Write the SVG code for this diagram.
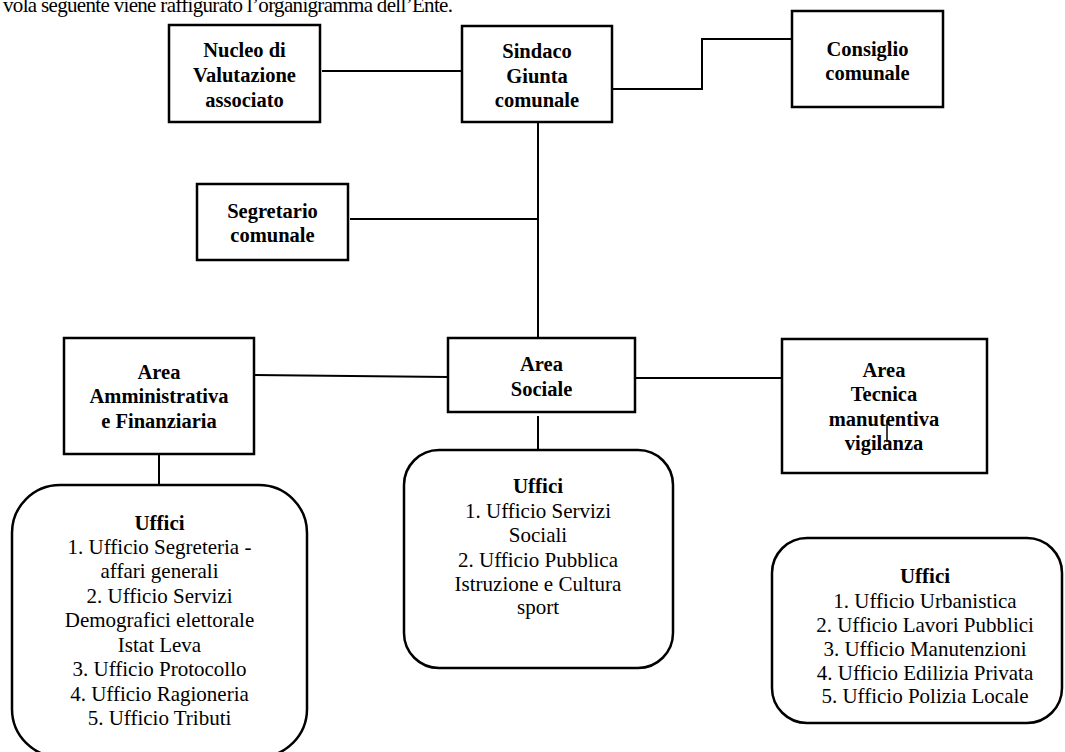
<svg xmlns="http://www.w3.org/2000/svg" width="1065" height="752" viewBox="0 0 1065 752">
<style>
.box{fill:#fff;stroke:#000;stroke-width:2.5}
.ln{fill:none;stroke:#000;stroke-width:2}
.t{font-family:"Liberation Serif","Times New Roman",serif;font-size:20.5px;font-weight:bold;text-anchor:middle;fill:#000}
.r{font-family:"Liberation Serif","Times New Roman",serif;font-size:21px;text-anchor:middle;fill:#000}
.rb{font-weight:bold}
</style>
<rect width="1065" height="752" fill="#fff"/>
<text x="3" y="12" font-family="Liberation Serif, serif" font-size="21" textLength="450" fill="#000">vola seguente viene raffigurato l’organigramma dell’Ente.</text>
<g id="connectors">
<line class="ln" x1="322" y1="71" x2="462" y2="71"/>
<polyline class="ln" points="612,89 702,89 702,39 792,39"/>
<line class="ln" x1="538" y1="122" x2="538" y2="338"/>
<line class="ln" x1="350" y1="219" x2="538" y2="219"/>
<line class="ln" x1="254" y1="375" x2="448" y2="377"/>
<line class="ln" x1="635" y1="378" x2="782" y2="378"/>
<line class="ln" x1="538" y1="416" x2="538" y2="450"/>
<line class="ln" x1="159" y1="454" x2="159" y2="485"/>
</g>
<g id="nucleo">
<rect class="box" x="169" y="25" width="151" height="97"/>
<text class="t" x="244.5" y="57">Nucleo di</text>
<text class="t" x="244.5" y="82">Valutazione</text>
<text class="t" x="244.5" y="107">associato</text>
</g>
<g id="sindaco">
<rect class="box" x="462" y="26" width="150" height="96"/>
<text class="t" x="537" y="58">Sindaco</text>
<text class="t" x="537" y="83">Giunta</text>
<text class="t" x="537" y="107">comunale</text>
</g>
<g id="consiglio">
<rect class="box" x="792" y="11" width="151" height="96"/>
<text class="t" x="867.5" y="56">Consiglio</text>
<text class="t" x="867.5" y="80">comunale</text>
</g>
<g id="segretario">
<rect class="box" x="197" y="184" width="151" height="76"/>
<text class="t" x="272.5" y="218">Segretario</text>
<text class="t" x="272.5" y="242">comunale</text>
</g>
<g id="area-amm">
<rect class="box" x="64" y="338" width="190" height="116"/>
<text class="t" x="159" y="379">Area</text>
<text class="t" x="159" y="403">Amministrativa</text>
<text class="t" x="159" y="428">e Finanziaria</text>
</g>
<g id="area-sociale">
<rect class="box" x="448" y="338" width="187" height="74"/>
<text class="t" x="541.5" y="371">Area</text>
<text class="t" x="541.5" y="396">Sociale</text>
</g>
<g id="area-tecnica">
<rect class="box" x="782" y="339" width="205" height="134"/>
<text class="t" x="884" y="377">Area</text>
<text class="t" x="884" y="401">Tecnica</text>
<text class="t" x="884" y="426">manutentiva</text>
<text class="t" x="884" y="450">vigilanza</text>
<line x1="887" y1="420" x2="887" y2="442" stroke="#000" stroke-width="1.5"/>
</g>
<g id="uffici-amm">
<rect class="box" x="12" y="485" width="295" height="272" rx="48" ry="48"/>
<text class="r rb" x="159.5" y="530">Uffici</text>
<text class="r" x="159.5" y="554">1. Ufficio Segreteria -</text>
<text class="r" x="159.5" y="578">affari generali</text>
<text class="r" x="159.5" y="603">2. Ufficio Servizi</text>
<text class="r" x="159.5" y="627">Demografici elettorale</text>
<text class="r" x="159.5" y="652">Istat Leva</text>
<text class="r" x="159.5" y="676">3. Ufficio Protocollo</text>
<text class="r" x="159.5" y="701">4. Ufficio Ragioneria</text>
<text class="r" x="159.5" y="725">5. Ufficio Tributi</text>
</g>
<g id="uffici-sociale">
<rect class="box" x="404" y="450" width="269" height="218" rx="35" ry="35"/>
<text class="r rb" x="538" y="493">Uffici</text>
<text class="r" x="538" y="518">1. Ufficio Servizi</text>
<text class="r" x="538" y="542">Sociali</text>
<text class="r" x="538" y="567">2. Ufficio Pubblica</text>
<text class="r" x="538" y="591">Istruzione e Cultura</text>
<text class="r" x="538" y="614">sport</text>
</g>
<g id="uffici-tecnica">
<rect class="box" x="772" y="538" width="290" height="185" rx="35" ry="35"/>
<text class="r rb" x="925" y="583">Uffici</text>
<text class="r" x="925" y="608">1. Ufficio Urbanistica</text>
<text class="r" x="925" y="632">2. Ufficio Lavori Pubblici</text>
<text class="r" x="925" y="656">3. Ufficio Manutenzioni</text>
<text class="r" x="925" y="680">4. Ufficio Edilizia Privata</text>
<text class="r" x="925" y="703">5. Ufficio Polizia Locale</text>
</g>
</svg>
